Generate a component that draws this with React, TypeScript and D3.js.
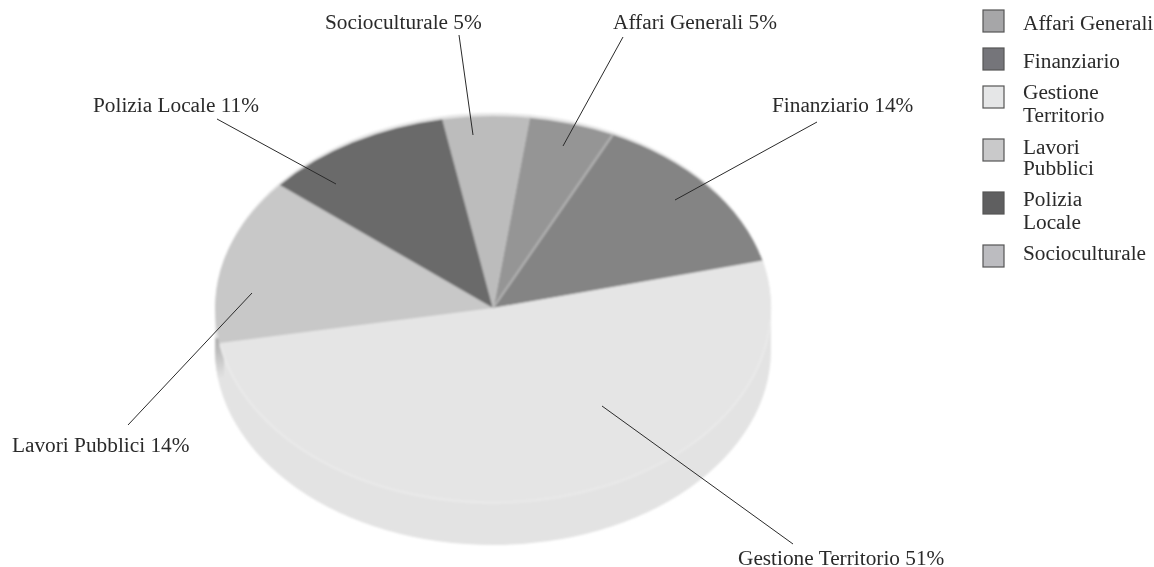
import React from "react";
import * as d3 from "d3";

const categories = ["Affari Generali", "Finanziario", "Gestione Territorio", "Lavori Pubblici", "Polizia Locale", "Socioculturale"];
const values = [5, 14, 51, 14, 11, 5];
const sliceColors = ["#959595", "#848484", "#e5e5e5", "#c8c8c8", "#6b6b6b", "#bcbcbc"];
const legendColors = ["#a6a6a8", "#75757a", "#e5e6e7", "#c9c9ca", "#5f5f60", "#bcbcc0"];
const legendLines = [["Affari Generali"], ["Finanziario"], ["Gestione", "Territorio"], ["Lavori", "Pubblici"], ["Polizia", "Locale"], ["Socioculturale"]];
const legendBoxY = [10, 48, 86, 139, 192, 245];
const legendTextY = [[30], [68], [99, 122], [154, 175], [206, 229], [260]];
// label anchor [x, baseline] and leader line [x1, y1, x2, y2]
const labelPos = [[613, 29], [772, 112], [738, 565], [12, 452], [93, 112], [325, 29]];
const leaders = [[623, 37, 563, 146], [817, 122, 675, 200], [793, 544, 602, 406], [128, 425, 252, 293], [217, 119, 336, 184], [459, 35, 473, 135]];

const cx = 493, cy = 308, rx = 278, ry = 192, ryFront = 195, depth = 42;

export default function App() {
  const pie = d3.pie<number>().sort(null)
    .startAngle((7.5 * Math.PI) / 180)
    .endAngle((367.5 * Math.PI) / 180);
  const arcs = pie(values);
  const arc = d3.arc<d3.PieArcDatum<number>>().innerRadius(0).outerRadius(1);
  const rim = d3.arc()({ innerRadius: 1, outerRadius: 1, startAngle: Math.PI * 0.52, endAngle: Math.PI * 1.44 } as any) || "";
  const font = "'Liberation Serif', serif";
  return (
    <svg width={1154} height={567} style={{ position: "absolute", left: 0, top: 0, background: "#fff" }} fontFamily={font} fontSize={21.3} fill="#2a2a2a">
      <defs>
        <filter id="soft" x="-5%" y="-5%" width="110%" height="110%"><feGaussianBlur stdDeviation="0.8" /></filter>
        <filter id="softText" x="-5%" y="-20%" width="110%" height="140%"><feGaussianBlur stdDeviation="0.3" /></filter>
        <linearGradient id="wallShade" x1="0" x2="0" y1="0" y2="1">
          <stop offset="0" stopColor="#aaaaaa" />
          <stop offset="1" stopColor="#e3e3e3" />
        </linearGradient>
        <clipPath id="wallClip"><ellipse cx={cx} cy={cy + depth} rx={rx} ry={ryFront} /></clipPath>
      </defs>
      <g filter="url(#soft)">
        {/* side wall */}
        <ellipse cx={cx} cy={cy + depth} rx={rx} ry={ryFront} fill="#e3e3e3" />
        <rect x={cx - rx} y={cy} width={rx * 2} height={depth} fill="#e3e3e3" />
        <g clipPath="url(#wallClip)">
          <rect x={cx - rx} y={338} width={9} height={40} fill="url(#wallShade)" />
        </g>
        {/* top face */}
        <ellipse cx={cx} cy={cy} rx={rx} ry={ryFront} fill="#e5e5e5" />
        {arcs.map((a, i) => (
          <g key={i} transform={`translate(${cx},${cy}) scale(${rx},${i === 2 ? ryFront : ry})`}>
            <path d={arc(a) || ""} fill={sliceColors[i]} />
          </g>
        ))}
        <g transform={`translate(${cx},${cy}) scale(${rx},${ryFront})`}>
          <path d={rim} fill="none" stroke="#ececec" strokeWidth={1.4} vectorEffect="non-scaling-stroke" />
        </g>
        <g transform={`translate(${cx},${cy}) scale(${rx},${ry})`}>
          <path d={arc({ ...arcs[1], endAngle: arcs[1].startAngle }) || ""} fill="none" stroke="#b4b4b4" strokeWidth={2} vectorEffect="non-scaling-stroke" />
          <path d={arc({ ...arcs[0], endAngle: arcs[0].startAngle }) || ""} fill="none" stroke="#c0c0c0" strokeWidth={1} vectorEffect="non-scaling-stroke" />
        </g>
      </g>
      {leaders.map((l, i) => (
        <line key={i} x1={l[0]} y1={l[1]} x2={l[2]} y2={l[3]} stroke="#2a2a2a" strokeWidth={1} />
      ))}
      <g filter="url(#softText)">
        {categories.map((c, i) => (
          <text key={c} x={labelPos[i][0]} y={labelPos[i][1]}>{`${c} ${values[i]}%`}</text>
        ))}
        {categories.map((c, i) => (
          <g key={c}>
            {legendLines[i].map((t, j) => (
              <text key={t} x={1023} y={legendTextY[i][j]}>{t}</text>
            ))}
          </g>
        ))}
      </g>
      {categories.map((c, i) => (
        <rect key={c} x={983} y={legendBoxY[i]} width={21} height={22} fill={legendColors[i]} stroke="#555" strokeWidth={1.2} />
      ))}
    </svg>
  );
}
